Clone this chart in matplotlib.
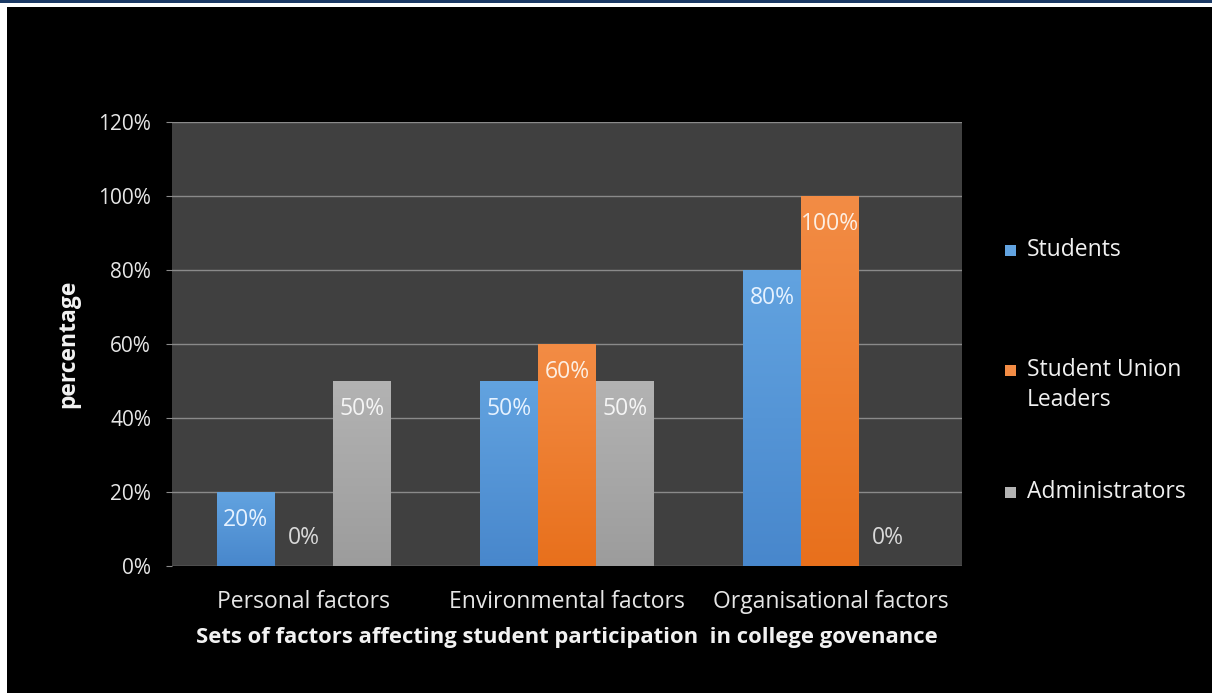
import matplotlib.pyplot as plt
import numpy as np
from matplotlib.patches import Rectangle
from matplotlib.colors import LinearSegmentedColormap

plt.rcParams['font.family'] = ['Open Sans', 'DejaVu Sans']

# data
categories = ['Personal factors', 'Environmental factors', 'Organisational factors']
series_names = ['Students', 'Student Union\nLeaders', 'Administrators']
students = [20, 50, 80]
union_leaders = [0, 60, 100]
administrators = [50, 50, 0]
yticks = [0, 20, 40, 60, 80, 100, 120]

values = [students, union_leaders, administrators]
# (top colour, bottom colour) for the gradient fill
colors = [('#62a3e0', '#4887cc'), ('#f38c45', '#e8701c'), ('#b3b3b3', '#9c9c9c')]
label_colors = ['#e6f2ff', '#fdeee2', '#f5f5f5']

W, H = 1212, 693
fig = plt.figure(figsize=(W / 100, H / 100), dpi=100)
fig.patch.set_facecolor('white')

# frame: dark blue strip on top, black slide body
fig.patches.append(Rectangle((0, 1 - 3 / H), 1, 3 / H, transform=fig.transFigure,
                             facecolor='#1b3a66', edgecolor='none', zorder=-10))
fig.patches.append(Rectangle((7 / W, 0), 1, 1 - 7 / H, transform=fig.transFigure,
                             facecolor='black', edgecolor='none', zorder=-10))

ax = fig.add_axes([172 / W, (H - 566) / H, 790 / W, 444 / H])
ax.set_facecolor('#404040')

x = np.arange(len(categories))
bw = 0.22
grad = np.linspace(0, 1, 256).reshape(-1, 1)
for i, (vals, (ctop, cbot)) in enumerate(zip(values, colors)):
    pos = x + (i - 1) * bw
    bars = ax.bar(pos, vals, width=bw, color=ctop, edgecolor='none', zorder=2,
                  label=series_names[i])
    cmap = LinearSegmentedColormap.from_list('g%d' % i, [cbot, ctop])
    for b in bars:
        if b.get_height() <= 0:
            continue
        im = ax.imshow(grad, cmap=cmap, aspect='auto', origin='lower',
                       extent=[b.get_x(), b.get_x() + b.get_width(), 0, b.get_height()],
                       zorder=3)
        im.set_clip_path(b)
    for p, v in zip(pos, vals):
        # zero values get their label just above the baseline, like excel does
        off = -20 if v > 0 else 20
        ax.annotate('%d%%' % v, (p, v), xytext=(0, off), textcoords='offset points',
                    ha='center', va='center', fontsize=16.5,
                    color=label_colors[i] if v > 0 else '#d9d9d9', zorder=4)

ax.set_xlim(-0.5, 2.5)
ax.set_ylim(0, 120)
ax.set_yticks(yticks)
ax.set_yticklabels(['%d%%' % t for t in yticks])
ax.yaxis.grid(True, color='#8a8a8a', lw=1)
ax.set_axisbelow(True)
ax.set_xticks(x)
ax.set_xticklabels(categories)
for s in ax.spines.values():
    s.set_visible(False)
ax.tick_params(axis='y', colors='#8a8a8a', labelcolor='#e6e6e6', labelsize=15,
               length=4, pad=11)
ax.tick_params(axis='x', length=0, labelcolor='#e6e6e6', labelsize=16.5, pad=17)
ax.set_xlabel('Sets of factors affecting student participation  in college govenance',
              color='#f2f2f2', fontsize=15.8, fontweight='bold', va='center')
ax.xaxis.set_label_coords(0.5, (566 - 637) / 444)
ax.set_ylabel('percentage', color='#f2f2f2', fontsize=16.5, fontweight='bold', va='center')
ax.yaxis.set_label_coords((68 - 172) / 790, 0.5)

# legend on the right, one entry per series
leg_y = [250, 370, 492]
for name, (ctop, cbot), yy in zip(series_names, colors, leg_y):
    fig.patches.append(Rectangle((1005 / W, (H - yy - 6) / H), 11 / W, 11 / H,
                                 transform=fig.transFigure, facecolor=ctop,
                                 edgecolor='none', zorder=5))
    for k, line in enumerate(name.split('\n')):
        fig.text(1027 / W, (H - yy - 30 * k) / H, line, color='#f0f0f0',
                 fontsize=16.5, va='center', ha='left')

fig.savefig('out.png', dpi=100, facecolor=fig.get_facecolor())
